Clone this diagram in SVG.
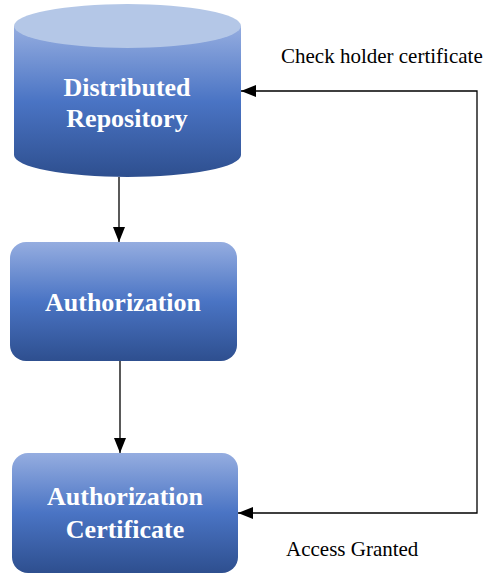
<svg xmlns="http://www.w3.org/2000/svg" width="490" height="575" viewBox="0 0 490 575">
  <defs>
    <linearGradient id="blueFill" x1="0" y1="0" x2="0" y2="1">
      <stop offset="0" stop-color="#95ade0"/>
      <stop offset="0.5" stop-color="#4a74c4"/>
      <stop offset="1" stop-color="#2e4f8f"/>
    </linearGradient>
    <marker id="arrow" viewBox="0 0 15 12" refX="15" refY="6" markerWidth="15" markerHeight="12" markerUnits="userSpaceOnUse" orient="auto-start-reverse">
      <path d="M0,0 L15,6 L0,12 Z" fill="#000"/>
    </marker>
  </defs>
  <style>
    .node-label { font-family: "Liberation Serif", "Times New Roman", serif; font-weight: bold; font-size: 26px; fill: #ffffff; text-anchor: middle; }
    .edge-label { font-family: "Liberation Serif", "Times New Roman", serif; font-size: 21px; fill: #000000; }
    .edge { fill: none; stroke: #000; stroke-width: 1.3; }
    .box { fill: url(#blueFill); }
  </style>

  <g id="connectors">
    <line class="edge" x1="119" y1="177" x2="119" y2="242" marker-end="url(#arrow)"/>
    <line class="edge" x1="120" y1="361" x2="120" y2="453" marker-end="url(#arrow)"/>
    <!-- feedback loop with an arrowhead at each end -->
    <polyline class="edge" points="238,513 477,513 477,91 241,91" marker-start="url(#arrow)" marker-end="url(#arrow)"/>
    <text class="edge-label" x="281" y="63">Check holder certificate</text>
    <text class="edge-label" x="286" y="556">Access Granted</text>
  </g>

  <g id="distributed-repository">
    <path class="box" d="M14,26 L14,155 A113.5,22 0 0 0 241,155 L241,26 Z"/>
    <ellipse cx="127.5" cy="26" rx="113.5" ry="22" fill="#b4c7e7"/>
    <text class="node-label" x="127" y="96">Distributed</text>
    <text class="node-label" x="127" y="127">Repository</text>
  </g>

  <g id="authorization">
    <rect class="box" x="10" y="242" width="227" height="119" rx="16" ry="16"/>
    <text class="node-label" x="123" y="311">Authorization</text>
  </g>

  <g id="authorization-certificate">
    <rect class="box" x="12" y="453" width="226" height="120" rx="16" ry="16"/>
    <text class="node-label" x="125" y="505">Authorization</text>
    <text class="node-label" x="125" y="538">Certificate</text>
  </g>
</svg>
